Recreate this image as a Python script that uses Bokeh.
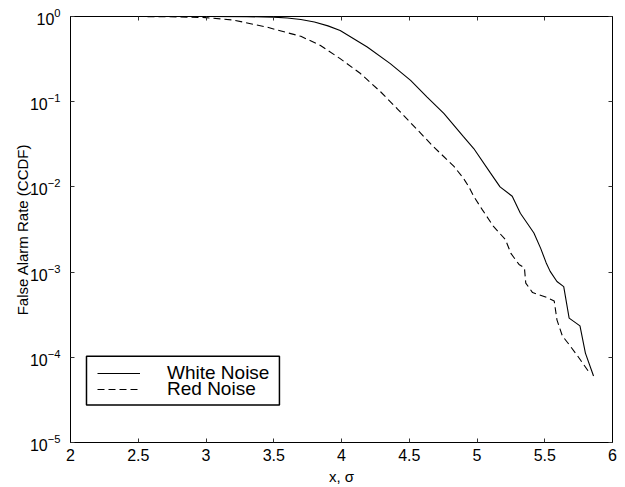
from bokeh.plotting import figure
from bokeh.models import (LinearAxis, LogAxis, FixedTicker, LogTickFormatter,
                          Legend, LegendItem, Range1d, CustomJSTickFormatter,
                          BoxAnnotation)
from bokeh.embed import file_html
from bokeh.resources import INLINE

# ---- data ----
white_x = [2.0, 2.5, 3.0, 3.3, 3.5, 3.6, 3.7, 3.8, 3.9, 3.99, 4.19, 4.36, 4.51,
           4.63, 4.755, 4.90, 4.976, 5.10, 5.17, 5.26, 5.32, 5.42, 5.47, 5.51,
           5.54, 5.59, 5.64, 5.68, 5.76, 5.80, 5.86]
white_y = [1.0, 1.0, 0.999, 0.995, 0.982, 0.96, 0.922, 0.86, 0.776, 0.685, 0.438,
           0.280, 0.178, 0.114, 0.0728, 0.0389, 0.0282, 0.0145, 0.0100, 0.00776,
           0.0049, 0.00288, 0.0019, 0.00129, 0.00102, 0.000776, 0.000676,
           0.000288, 0.000234, 0.000112, 0.0000603]

red_x = [2.0, 2.5, 2.8, 3.0, 3.2, 3.45, 3.6, 3.7, 3.845, 3.99, 4.14, 4.29, 4.41,
         4.56, 4.68, 4.83, 4.90, 4.94, 4.976, 5.04, 5.12, 5.21, 5.25, 5.31, 5.35,
         5.36, 5.41, 5.52, 5.57, 5.59, 5.63, 5.68, 5.74, 5.82]
red_y = [1.0, 0.9995, 0.99, 0.97, 0.91, 0.75, 0.645, 0.586, 0.457, 0.320, 0.214,
         0.130, 0.0832, 0.0468, 0.0295, 0.0174, 0.0126, 0.0100, 0.00776, 0.00537,
         0.00347, 0.0024, 0.00166, 0.00123, 0.00112, 0.000741, 0.000575,
         0.000501, 0.000457, 0.000275, 0.000178, 0.000141, 0.000105, 0.0000692]

x_ticks = [2, 2.5, 3, 3.5, 4, 4.5, 5, 5.5, 6]
y_ticks = [1e-5, 1e-4, 1e-3, 1e-2, 1e-1, 1e0]
series_labels = ["White Noise", "Red Noise"]

FONT = "Liberation Sans"

p = figure(width=625, height=487, x_range=Range1d(2, 6), y_range=Range1d(1e-5, 1),
           y_axis_type="log", output_backend="svg", toolbar_location=None,
           min_border_left=70, min_border_right=13, min_border_top=16,
           min_border_bottom=44)
p.grid.visible = False
p.outline_line_color = "black"
p.outline_line_width = 1
p.background_fill_color = "white"
p.border_fill_color = "white"

# legend frame (drawn first, below the legend entries)
legend_box = BoxAnnotation(left=2.118, right=3.542, bottom=2.75e-5, top=1.03e-4,
                           fill_color="white", fill_alpha=1.0,
                           line_color="black", line_width=1.5, line_alpha=1.0)
p.add_layout(legend_box)

r1 = p.line(white_x, white_y, line_color="black", line_width=1.1)
r2 = p.line(red_x, red_y, line_color="black", line_width=1.1, line_dash="7 4")

def style_axis(ax):
    ax.major_tick_in = 4
    ax.major_tick_out = 0
    ax.minor_tick_in = 0
    ax.minor_tick_out = 0
    ax.axis_line_color = "black"
    ax.major_tick_line_color = "#333333"
    ax.major_label_text_font = FONT
    ax.major_label_text_font_size = "16px"
    ax.major_label_text_color = "black"
    ax.axis_label_text_font = FONT
    ax.axis_label_text_font_style = "normal"
    ax.axis_label_text_font_size = "15px"
    ax.axis_label_text_color = "black"

xa = p.xaxis[0]
xa.ticker = FixedTicker(ticks=x_ticks)
xa.axis_label = "x, σ"
xa.major_label_standoff = 6
xa.axis_label_standoff = 4
style_axis(xa)

ya = p.yaxis[0]
ya.ticker = FixedTicker(ticks=y_ticks)
ya.formatter = LogTickFormatter()
ya.axis_label = "False Alarm Rate (CCDF)"
ya.major_label_standoff = 10
ya.axis_label_standoff = -4
style_axis(ya)

blank = CustomJSTickFormatter(code="return ''")
top = LinearAxis(ticker=FixedTicker(ticks=x_ticks), formatter=blank,
                 major_label_standoff=0)
style_axis(top)
p.add_layout(top, "above")
right = LogAxis(ticker=FixedTicker(ticks=y_ticks), formatter=blank,
                major_label_standoff=0)
style_axis(right)
p.add_layout(right, "right")

def make_legend(label, renderer, loc):
    lg = Legend(items=[LegendItem(label=label, renderers=[renderer])],
                location=loc, orientation="vertical")
    lg.border_line_alpha = 0
    lg.background_fill_alpha = 0
    lg.glyph_width = 43
    lg.glyph_height = 14
    lg.label_standoff = 27
    lg.label_text_font = FONT
    lg.label_text_font_size = "19px"
    lg.label_text_color = "black"
    lg.label_height = 14
    lg.spacing = 0
    lg.padding = 0
    lg.margin = 0
    return lg

p.add_layout(make_legend(series_labels[0], r1, (27, 58)), "center")
p.add_layout(make_legend(series_labels[1], r2, (27, 42)), "center")

open("out.html", "w").write(file_html(p, INLINE))
